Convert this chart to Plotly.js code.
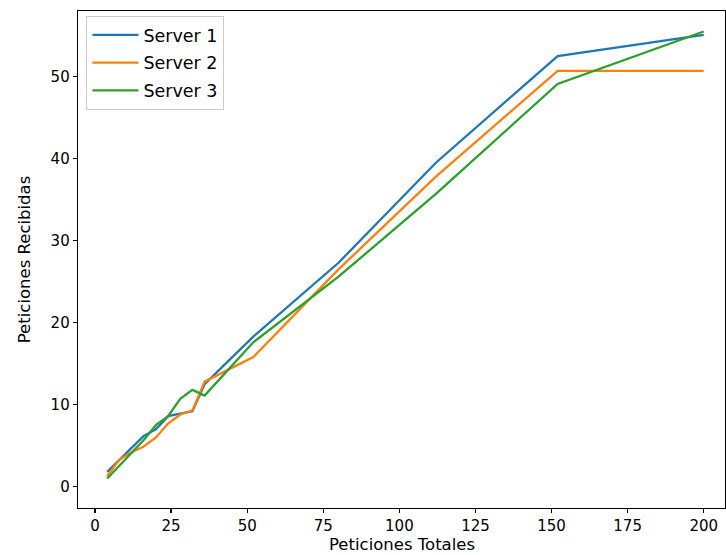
<!DOCTYPE html>
<html>
<head>
<meta charset="utf-8">
<script src="https://cdn.plot.ly/plotly-3.0.1.min.js"></script>
<style>html,body{margin:0;padding:0;background:#fff;}#chart{width:726px;height:555px;}</style>
</head>
<body>
<div id="chart"></div>
<script>
const peticionesTotales = [4, 8, 12, 16, 20, 24, 28, 32, 36, 52, 80, 112, 152, 200];
const server1 = [1.8, 3.3, 4.8, 6.2, 7.0, 8.6, 8.9, 9.2, 12.5, 18.3, 27.3, 39.5, 52.5, 55.1];
const server2 = [1.3, 3.3, 4.2, 4.9, 6.0, 7.7, 8.8, 9.3, 12.8, 15.8, 26.5, 37.8, 50.7, 50.7];
const server3 = [1.0, 2.6, 4.2, 5.7, 7.5, 8.6, 10.7, 11.8, 11.1, 17.6, 25.6, 35.7, 49.1, 55.5];
const seriesNames = ["Server 1", "Server 2", "Server 3"];
const colors = ["#1f77b4", "#ff7f0e", "#2ca02c"];
const xTicks = [0, 25, 50, 75, 100, 125, 150, 175, 200];
const yTicks = [0, 10, 20, 30, 40, 50];
const xTitle = "Peticiones Totales";
const yTitle = "Peticiones Recibidas";

const allSeries = [server1, server2, server3];
const traces = allSeries.map((ys, i) => ({
  x: peticionesTotales,
  y: ys,
  type: "scatter",
  mode: "lines",
  name: seriesNames[i],
  legendgroup: "g" + i,
  line: {color: colors[i], width: 2.3}
}));

const tickFont = {family: "DejaVu Sans, sans-serif", size: 15, color: "#000"};
const labelFont = {family: "DejaVu Sans, sans-serif", size: 16.5, color: "#000"};
const axisCommon = {
  showline: true, linecolor: "#000", linewidth: 1.3, mirror: true,
  ticks: "outside", ticklen: 4, tickwidth: 1.3, tickcolor: "#000",
  showgrid: false, zeroline: false, tickfont: tickFont
};

const layout = {
  width: 726, height: 555,
  margin: {l: 78, r: 1, t: 11, b: 47},
  paper_bgcolor: "#fff", plot_bgcolor: "#fff",
  font: tickFont,
  showlegend: true,
  legend: {
    x: 0.013, y: 0.99, xanchor: "left", yanchor: "top",
    bgcolor: "rgba(255,255,255,0.8)", bordercolor: "#cccccc", borderwidth: 1,
    font: {family: "DejaVu Sans, sans-serif", size: 17.5, color: "#000"},
    traceorder: "grouped", tracegroupgap: 2, itemwidth: 46
  },
  xaxis: Object.assign({}, axisCommon, {
    range: [-5.6, 207], tickvals: xTicks, ticktext: xTicks.map(String)
  }),
  yaxis: Object.assign({}, axisCommon, {
    range: [-2.6, 58.0], tickvals: yTicks, ticktext: yTicks.map(String),
    title: {text: yTitle, font: labelFont, standoff: 15}
  }),
  annotations: [{
    text: xTitle, font: labelFont, showarrow: false,
    xref: "paper", yref: "paper", x: 0.5, xanchor: "center",
    y: -0.0744, yanchor: "middle", borderpad: 0
  }]
};

Plotly.newPlot("chart", traces, layout, {displayModeBar: false, staticPlot: true});
</script>
</body>
</html>
